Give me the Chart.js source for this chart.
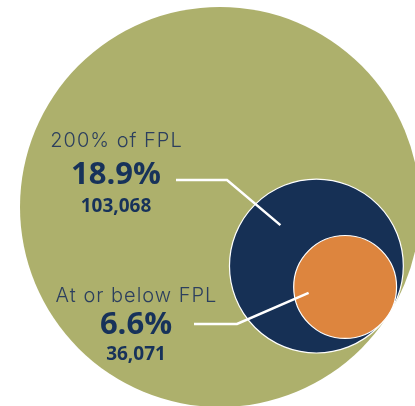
<!DOCTYPE html>
<html>
<head>
<meta charset="utf-8">
<script src="https://cdn.jsdelivr.net/npm/chart.js@4.4.1/dist/chart.umd.min.js"></script>
<style>
  html, body { margin: 0; padding: 0; background: #ffffff; }
  #wrap { width: 415px; height: 406px; position: relative; }
</style>
</head>
<body>
<div id="wrap"><canvas id="c" width="415" height="406"></canvas></div>
<script>
// ---- data ----
const categories = ['Total population', '200% of FPL', 'At or below FPL'];
const counts = [545500, 103068, 36071];          // total is estimated from the circle area
const shareLabels = ['', '18.9%', '6.6%'];
const countLabels = ['', '103,068', '36,071'];
const colors = ['#adb06c', '#163055', '#dd853e'];

// ---- layout ----
const W = 415, H = 406;
const bigRadiusPx = 200;                 // radius of the total circle
const bigCenter = { x: 220, y: 207 };    // in scale units (1 unit = 1 px)
const tangentAngles = [0, 31.5, 36];     // direction of internal tangency, degrees
const k = bigRadiusPx / Math.sqrt(counts[0]);
const radii = counts.map(v => k * Math.sqrt(v));

// nested circles: each one internally tangent to its parent
const points = [];
let prev = { x: bigCenter.x, y: bigCenter.y, r: radii[0] };
points.push({ x: prev.x, y: prev.y, r: prev.r });
for (let i = 1; i < counts.length; i++) {
  const a = tangentAngles[i] * Math.PI / 180;
  const d = prev.r - radii[i];
  const p = { x: prev.x + d * Math.cos(a), y: prev.y + d * Math.sin(a), r: radii[i] };
  points.push(p);
  prev = p;
}

const labelPlugin = {
  id: 'labels',
  afterDatasetsDraw(chart) {
    const ctx = chart.ctx;
    const els = chart.getDatasetMeta(0).data;
    const navy = els[1], orange = els[2];
    const rN = navy.options.radius, rO = orange.options.radius;
    ctx.save();
    // leader lines
    ctx.strokeStyle = '#ffffff';
    ctx.lineWidth = 2.5;
    ctx.lineJoin = 'miter';
    ctx.beginPath();
    ctx.moveTo(176, 180);
    ctx.lineTo(227, 180);
    ctx.lineTo(navy.x - 0.414 * rN, navy.y - 0.471 * rN);
    ctx.stroke();
    ctx.beginPath();
    ctx.moveTo(194, 324);
    ctx.lineTo(237, 324);
    ctx.lineTo(orange.x - 0.71 * rO, orange.y + 0.115 * rO);
    ctx.stroke();

    // texts
    ctx.textAlign = 'center';
    ctx.textBaseline = 'alphabetic';
    const blocks = [
      { i: 1, cx: 116, y1: 147, y2: 184, y3: 212 },
      { i: 2, cx: 136, y1: 302, y2: 334, y3: 360 }
    ];
    blocks.forEach(b => {
      ctx.fillStyle = '#2c3f5e';
      ctx.font = '300 20px Inter, "Open Sans", sans-serif';
      ctx.letterSpacing = '1px';
      ctx.fillText(categories[b.i], b.cx + 0.5, b.y1);
      ctx.letterSpacing = '0px';
      ctx.fillStyle = '#17325a';
      ctx.font = 'bold 31px "Open Sans", Lato, sans-serif';
      ctx.fillText(shareLabels[b.i], b.cx, b.y2);
      ctx.font = 'bold 19px "Open Sans", Lato, sans-serif';
      ctx.fillText(countLabels[b.i], b.cx, b.y3);
    });
    ctx.restore();
  }
};

new Chart(document.getElementById('c'), {
  type: 'bubble',
  data: {
    labels: categories,
    datasets: [{
      data: points,
      backgroundColor: colors,
      borderColor: ['rgba(0,0,0,0)', '#ffffff', '#ffffff'],
      borderWidth: [0, 1.2, 1.2],
      clip: false
    }]
  },
  options: {
    responsive: false,
    animation: false,
    events: [],
    layout: { padding: 0, autoPadding: false },
    plugins: { legend: { display: false }, tooltip: { enabled: false } },
    scales: {
      x: { type: 'linear', min: 0, max: W, display: false },
      y: { type: 'linear', min: 0, max: H, reverse: true, display: false }
    }
  },
  plugins: [labelPlugin]
});
</script>
</body>
</html>
